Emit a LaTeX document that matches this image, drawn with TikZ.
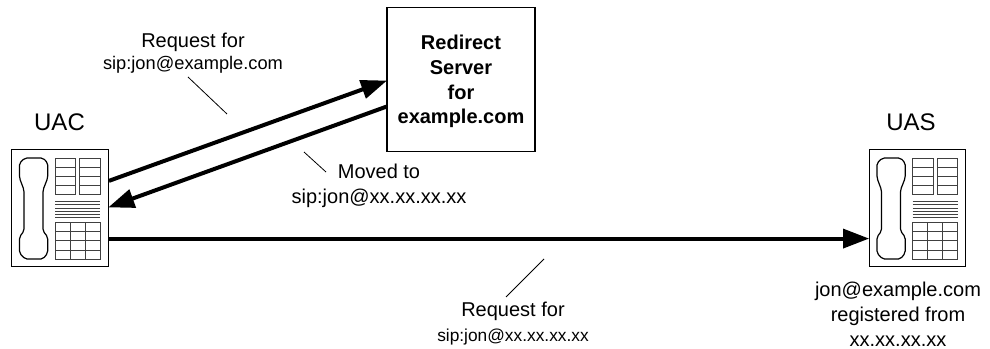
\documentclass[tikz,border=0pt]{standalone}
\usepackage{fontspec}
\setmainfont{Liberation Sans}
\usepackage{tikz}
\usetikzlibrary{positioning,calc,arrows.meta}
\tikzset{>={Triangle[length=19.5pt,width=14pt]}}
\newcommand{\smalltext}[1]{{\fontsize{13.7}{17}\selectfont #1}}
\newcommand{\midtext}[1]{{\fontsize{13}{18.7}\selectfont #1}}
\tikzset{
  phonebox/.style={draw,line width=.9pt,minimum width=72.5pt,minimum height=87.5pt,inner sep=0pt},
  serverbox/.style={draw,line width=.9pt,minimum width=111pt,minimum height=108.5pt,align=center,font=\fontsize{15}{18.6}\selectfont\bfseries},
  caption/.style={align=center,inner sep=0pt,font=\fontsize{15}{18.7}\selectfont},
  title/.style={font=\fontsize{18}{21}\selectfont},
  message/.style={->,line width=3pt,shorten >=-.5pt},
  leader/.style={line width=.6pt},
  keys/.style={line width=.5pt,black!75},
  phone/.pic={
    \draw[line width=.9pt,rounded corners=1.5pt] (-35,-50) -- (-17,-50) -- (-12.3,-45) -- (-12.3,-30) -- (-17,-18) -- (-17,23) -- (-12.3,29) -- (-12.3,45) -- (-17,51) -- (-35,51) -- (-40.5,45) -- (-40.5,29) -- (-36,23) -- (-36,-18) -- (-40.5,-30) -- (-40.5,-45) -- cycle;
    \draw[keys] (-5,-50) rectangle (15.5,-14);
    \draw[keys] (19.5,-50) rectangle (40,-14);
    \foreach \y in {-41,-32,-23} {
      \draw[keys] (-5,\y) -- (15.5,\y);
      \draw[keys] (19.5,\y) -- (40,\y);
    }
    \foreach \y in {-7,-3.5,0,3.5,6.5,9} \draw[keys] (-5,\y) -- (40,\y);
    \draw[keys] (-5,14.5) rectangle (40,51);
    \foreach \y in {23.5,32.5,42} \draw[keys] (-5,\y) -- (40,\y);
    \foreach \x in {10,25} \draw[keys] (\x,14.5) -- (\x,51);
  }
}
\begin{document}
\begin{tikzpicture}[x=.75pt,y=-.75pt]
\useasboundingbox (0,0) rectangle (990,349);
\node[phonebox] (uac) at (60,208) {};
\node[phonebox] (uas) at (917.5,208) {};
\pic at (uac) {phone};
\pic at (uas) {phone};
\node[serverbox] (server) at (461,79.5) {\rule{0pt}{14pt}Redirect\\Server\\for\\example.com};
\node[title] (uaclabel) at (59.5,122) {UAC};
\node[title] (uaslabel) at (911,122) {UAS};
\node[caption] (reqtop) at (193,53) {Request for\\[-1.7pt]\smalltext{sip:jon@example.com}};
\node[caption] (moved) at (379,186) {Moved to\\sip:jon@xx.xx.xx.xx};
\node[caption] (reqbottom) at (513,324) {Request for\\\midtext{sip:jon@xx.xx.xx.xx}};
\node[caption] (registered) at (898,314.5) {jon@example.com\\registered from\\xx.xx.xx.xx};
\draw[message] (uac.29.4) -- (server.181);
\draw[message] (server.200.4) -- (uac.1);
\draw[message] (uac.-32.9) -- (uas.212.6);
\coordinate (reqtopstart) at (188,77);
\coordinate (reqtopend) at (227,114);
\coordinate (movedstart) at (304,152);
\coordinate (movedend) at (326,172);
\coordinate (reqbottomstart) at (544,259);
\coordinate (reqbottomend) at (506,297);
\draw[leader] (reqtopstart) -- (reqtopend);
\draw[leader] (movedstart) -- (movedend);
\draw[leader] (reqbottomstart) -- (reqbottomend);
\end{tikzpicture}
\end{document}
